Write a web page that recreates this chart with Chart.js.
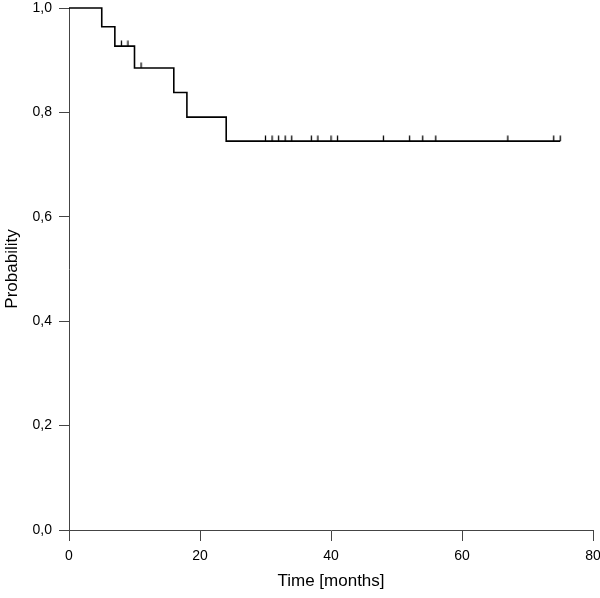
<!DOCTYPE html>
<html>
<head>
<meta charset="utf-8">
<script src="https://cdn.jsdelivr.net/npm/chart.js@4/dist/chart.umd.min.js"></script>
<style>
  html, body { margin: 0; padding: 0; background: #fff; }
  #km { display: block; }
</style>
</head>
<body>
<canvas id="km" width="600" height="598"></canvas>
<script>
// survival curve: step at each event time (months) to new probability
const stepTimes = [0, 5, 7, 10, 16, 18, 24, 75];
const stepProbs = [1.0, 0.964, 0.927, 0.885, 0.838, 0.791, 0.745, 0.745];

// censored observations (months)
const censorTimes = [8, 9, 11, 30, 31, 32, 33, 34, 37, 38, 40, 41, 48, 52, 54, 56, 67, 74, 75];

const xTicks = [0, 20, 40, 60, 80];
const yTicks = [0, 0.2, 0.4, 0.6, 0.8, 1.0];

// probability at time t
function survAt(t) {
  let p = stepProbs[0];
  for (let i = 0; i < stepTimes.length; i++) {
    if (stepTimes[i] <= t) p = stepProbs[i];
  }
  return p;
}

// censor mark: short vertical tick sitting on top of the line
const mark = document.createElement('canvas');
mark.width = 3; mark.height = 12;
const mctx = mark.getContext('2d');
mctx.strokeStyle = '#000';
mctx.lineWidth = 1.3;
mctx.beginPath();
mctx.moveTo(1.5, 0.5);
mctx.lineTo(1.5, 6);
mctx.stroke();

const axisCol = '#444';
const tickFont = { family: 'Liberation Sans, Arial, sans-serif', size: 14 };
const titleFont = { family: 'Liberation Sans, Arial, sans-serif', size: 17 };

new Chart(document.getElementById('km'), {
  type: 'scatter',
  data: {
    datasets: [{
      type: 'line',
      data: stepTimes.map((t, i) => ({ x: t, y: stepProbs[i] })),
      stepped: 'before',
      borderColor: '#000',
      borderWidth: 1.6,
      pointRadius: 0,
      fill: false,
      clip: false
    }, {
      data: censorTimes.map(t => ({ x: t, y: survAt(t) })),
      pointStyle: mark,
      pointRadius: 6,
      clip: false
    }]
  },
  options: {
    responsive: false,
    animation: false,
    devicePixelRatio: 1,
    layout: { padding: { top: 8, right: 7, left: 0, bottom: 0 } },
    plugins: { legend: { display: false }, tooltip: { enabled: false } },
    scales: {
      x: {
        type: 'linear', min: 0, max: 80,
        afterBuildTicks: s => { s.ticks = xTicks.map(v => ({ value: v })); },
        afterFit: s => { s.height = 68; s.paddingLeft = 0; s.paddingRight = 0; },
        ticks: { font: tickFont, color: '#000', padding: 7, maxRotation: 0 },
        grid: { drawOnChartArea: false, drawTicks: true, tickLength: 11, color: axisCol },
        border: { display: true, color: axisCol, width: 1 },
        title: { display: true, text: 'Time [months]', font: titleFont, color: '#000', padding: { top: 0, bottom: 6 } }
      },
      y: {
        type: 'linear', min: 0, max: 1,
        afterBuildTicks: s => { s.ticks = yTicks.map(v => ({ value: v })); },
        afterFit: s => { s.width = 69; s.paddingTop = 0; s.paddingBottom = 0; },
        ticks: { font: tickFont, color: '#000', padding: 7, callback: v => v.toFixed(1).replace('.', ',') },
        grid: { drawOnChartArea: false, drawTicks: true, tickLength: 10, color: axisCol },
        border: { display: true, color: axisCol, width: 1 },
        title: { display: true, text: 'Probability', font: titleFont, color: '#000', padding: { top: 2, bottom: 0 } }
      }
    }
  }
});
</script>
</body>
</html>
